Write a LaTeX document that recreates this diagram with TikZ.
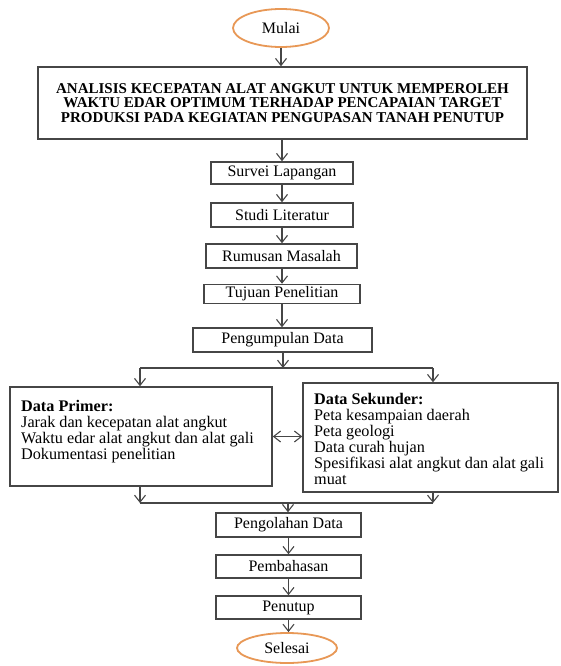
\documentclass[tikz,border=0pt]{standalone}
\usepackage{fontspec}
\setmainfont{Liberation Serif}
\usetikzlibrary{shapes.geometric,arrows.meta}
\definecolor{boxline}{RGB}{70,70,70}
\definecolor{ovalline}{RGB}{232,152,86}
\begin{document}
\begin{tikzpicture}[x=1pt,y=-1pt,
 box/.style={draw=boxline,line width=1.5pt,fill=white,inner sep=0pt,font=\fontsize{16}{16}\selectfont},
 oval/.style={ellipse,draw=ovalline,line width=1.8pt,fill=white,inner sep=0pt,font=\fontsize{16}{16}\selectfont},
 tip/.style={Straight Barb[length=7pt,width=11pt]},
 arr/.style={line width=1.1pt,draw=boxline,-{Straight Barb[length=7pt,width=11pt]}},
 ln/.style={line width=1.1pt,draw=boxline},
 dbl/.style={line width=1.1pt,draw=boxline,{Straight Barb[length=7pt,width=11pt]}-{Straight Barb[length=7pt,width=11pt]}},
 txt/.style={inner sep=0pt,align=left,anchor=north west,font=\fontsize{16.2}{16}\selectfont}]
\fill[white] (0,0) rectangle (561,666);
\useasboundingbox (0,0) rectangle (561,666);

\node[oval,minimum width=96pt,minimum height=38pt] (mulai) at (281,28) {Mulai};
\node[box,minimum width=489pt,minimum height=72pt,align=center,font=\fontsize{15}{14.5}\selectfont\bfseries] (judul) at (282.5,103)
 {ANALISIS KECEPATAN ALAT ANGKUT UNTUK MEMPEROLEH\\WAKTU EDAR OPTIMUM TERHADAP PENCAPAIAN TARGET\\PRODUKSI PADA KEGIATAN PENGUPASAN TANAH PENUTUP};
\node[box,minimum width=142pt,minimum height=22pt] (survei) at (282,173) {Survei Lapangan};
\node[box,minimum width=142pt,minimum height=24pt] (studi) at (282,215) {Studi Literatur};
\node[box,minimum width=151pt,minimum height=24pt] (rumusan) at (281.5,256) {Rumusan Masalah};
\node[box,minimum width=156pt,minimum height=19pt] (tujuan) at (282,294) {Tujuan Penelitian};
\node[box,minimum width=179pt,minimum height=24pt] (kumpul) at (282.5,340) {Pengumpulan Data};

\node[box,minimum width=262pt,minimum height=99pt] (primer) at (141,436.5) {};
\node[txt] (primertxt) at (21,400) {\textbf{Data Primer:}\\Jarak dan kecepatan alat angkut\\Waktu edar alat angkut dan alat gali\\Dokumentasi penelitian};
\node[box,minimum width=255pt,minimum height=109pt] (sekunder) at (430.5,437.5) {};
\node[txt] (sekundertxt) at (314,393) {\textbf{Data Sekunder:}\\Peta kesampaian daerah\\Peta geologi\\Data curah hujan\\Spesifikasi alat angkut dan alat gali\\muat};

\node[box,minimum width=145pt,minimum height=24pt] (olah) at (288.5,525) {Pengolahan Data};
\node[box,minimum width=145pt,minimum height=23pt] (bahas) at (288.5,566.5) {Pembahasan};
\node[box,minimum width=145pt,minimum height=23pt] (tutup) at (288.5,607.5) {Penutup};
\node[oval,minimum width=100pt,minimum height=30pt] (selesai) at (287,648) {Selesai};

\draw[arr] (mulai.south) -- (mulai.south |- judul.north);
\draw[arr] (survei.north |- judul.south) -- (survei.north);
\draw[arr] (survei.south) -- (survei.south |- studi.north);
\draw[arr] (studi.south) -- (studi.south |- rumusan.north);
\draw[arr] (tujuan.north |- rumusan.south) -- (tujuan.north);
\draw[arr] (tujuan.south) -- (tujuan.south |- kumpul.north);

\coordinate (sm) at (283,368);
\coordinate (sl) at (140,368);
\coordinate (sr) at (433,368);
\draw[arr] (sm |- kumpul.south) -- (sm);
\draw[ln] (sl) -- (sr);
\draw[arr] (sl) -- (sl |- primer.north);
\draw[arr] (sr) -- (sr |- sekunder.north);
\draw[dbl] (primer.east) -- (primer.east -| sekunder.west);

\coordinate (jl) at (140,503);
\coordinate (jr) at (433,503);
\coordinate (jm) at (288,503);
\draw[arr] (jl |- primer.south) -- (jl);
\draw[arr] (jr |- sekunder.south) -- (jr);
\draw[ln] (jl) -- (jr);
\draw[arr] (jm) -- (jm |- olah.north);
\draw[arr] (olah.south) -- (olah.south |- bahas.north);
\draw[arr] (bahas.south) -- (bahas.south |- tutup.north);
\draw[arr] (tutup.south) -- (tutup.south |- selesai.north);
\end{tikzpicture}
\end{document}
